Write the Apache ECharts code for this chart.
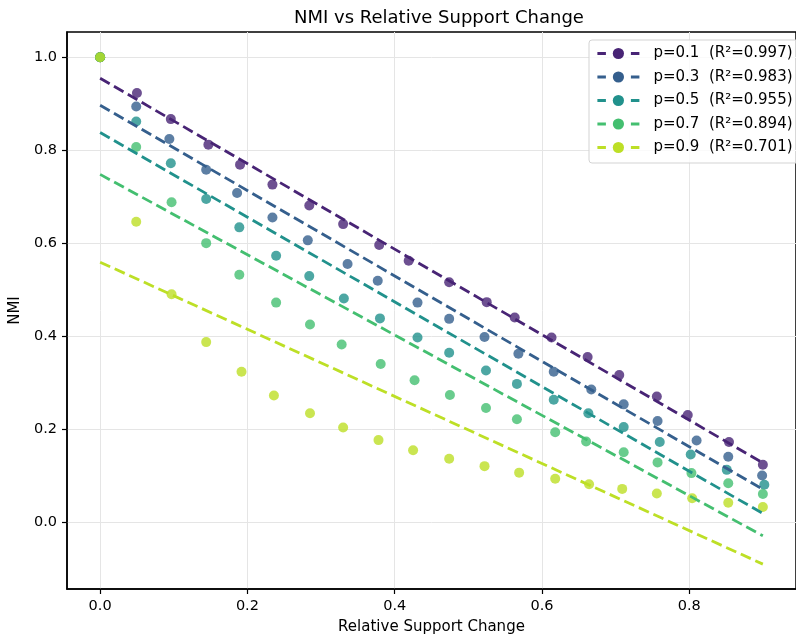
<!DOCTYPE html>
<html>
<head>
<meta charset="utf-8">
<title>NMI vs Relative Support Change</title>
<script src="https://cdn.jsdelivr.net/npm/echarts@6/dist/echarts.min.js"></script>
<style>
  html, body { margin: 0; padding: 0; background: #fff; }
  #myChart { width: 796px; height: 640px; }
</style>
</head>
<body>
<div id="myChart"></div>
<script>
// 每条曲线的 p 值和拟合 R²
let pValues = ['0.1', '0.3', '0.5', '0.7', '0.9'];
let r2Values = ['0.997', '0.983', '0.955', '0.894', '0.701'];
let colors = ['#482475', '#355f8d', '#21918c', '#44bf70', '#bddf26'];

// 散点 (x = relative support change, y = NMI)
let xP1 = [0, 0.050, 0.096, 0.147, 0.190, 0.234, 0.284, 0.330, 0.379, 0.419, 0.474, 0.525, 0.563, 0.613, 0.662, 0.705, 0.756, 0.798, 0.854, 0.900];
let yP1 = [1.0, 0.923, 0.867, 0.812, 0.769, 0.726, 0.681, 0.641, 0.596, 0.562, 0.516, 0.473, 0.440, 0.397, 0.355, 0.316, 0.270, 0.230, 0.172, 0.123];
let xP3 = [0, 0.049, 0.094, 0.144, 0.186, 0.234, 0.282, 0.336, 0.377, 0.431, 0.474, 0.522, 0.568, 0.616, 0.667, 0.711, 0.757, 0.810, 0.853, 0.899];
let yP3 = [1.0, 0.894, 0.824, 0.758, 0.708, 0.655, 0.606, 0.555, 0.519, 0.472, 0.437, 0.398, 0.362, 0.323, 0.285, 0.253, 0.217, 0.175, 0.140, 0.100];
let xP5 = [0, 0.049, 0.096, 0.144, 0.189, 0.239, 0.284, 0.331, 0.380, 0.431, 0.474, 0.524, 0.566, 0.616, 0.663, 0.711, 0.760, 0.802, 0.851, 0.902];
let yP5 = [1.0, 0.862, 0.772, 0.695, 0.634, 0.573, 0.529, 0.481, 0.438, 0.397, 0.364, 0.326, 0.297, 0.263, 0.234, 0.204, 0.172, 0.145, 0.112, 0.080];
let xP7 = [0, 0.049, 0.097, 0.144, 0.189, 0.239, 0.285, 0.328, 0.381, 0.427, 0.475, 0.524, 0.566, 0.618, 0.660, 0.711, 0.757, 0.803, 0.853, 0.900];
let yP7 = [1.0, 0.807, 0.688, 0.600, 0.532, 0.472, 0.425, 0.382, 0.340, 0.305, 0.273, 0.245, 0.221, 0.193, 0.173, 0.150, 0.128, 0.105, 0.083, 0.060];
let xP9 = [0, 0.049, 0.097, 0.144, 0.192, 0.236, 0.285, 0.330, 0.378, 0.425, 0.474, 0.522, 0.569, 0.618, 0.664, 0.709, 0.756, 0.804, 0.853, 0.900];
let yP9 = [1.0, 0.646, 0.490, 0.387, 0.323, 0.272, 0.234, 0.203, 0.176, 0.154, 0.136, 0.120, 0.106, 0.093, 0.081, 0.071, 0.061, 0.051, 0.041, 0.032];

// 拟合直线 两端的值
let fitX = [0, 0.9];
let fitStart = [0.955, 0.897, 0.838, 0.748, 0.559];
let fitEnd = [0.127, 0.070, 0.018, -0.030, -0.091];

// 刻度
let xTicks = [0, 0.2, 0.4, 0.6, 0.8];
let yTicks = [0, 0.2, 0.4, 0.6, 0.8, 1.0];

let xs = [xP1, xP3, xP5, xP7, xP9];
let ys = [yP1, yP3, yP5, yP7, yP9];

let font = 'DejaVu Sans';
let series = [];
let legendNames = [];
for (let i = 0; i < pValues.length; i++) {
  let name = 'p=' + pValues[i] + '  (R\u00b2=' + r2Values[i] + ')';
  legendNames.push(name);
  series.push({
    name: 'pts' + pValues[i],
    type: 'scatter',
    symbol: 'circle',
    symbolSize: 10,
    itemStyle: { color: colors[i], opacity: 0.8 },
    data: xs[i].map(function (x, k) { return [x, ys[i][k]]; }),
    z: 2
  });
  series.push({
    name: name,
    type: 'line',
    symbol: 'circle',
    symbolSize: 10,
    showSymbol: false,
    itemStyle: { color: colors[i] },
    lineStyle: { color: colors[i], width: 2.8, type: [11, 5] },
    data: [[fitX[0], fitStart[i]], [fitX[1], fitEnd[i]]],
    z: 3
  });
}

let option = {
  animation: false,
  title: {
    text: 'NMI vs Relative Support Change',
    left: 289,
    top: 4,
    textStyle: { fontFamily: font, fontSize: 18, fontWeight: 'normal', color: '#000' }
  },
  legend: {
    data: legendNames,
    orient: 'vertical',
    left: 589,
    top: 40,
    padding: [6, 12, 8, 7],
    itemWidth: 42,
    itemHeight: 14,
    itemGap: 8.5,
    borderColor: '#d3d3d3',
    borderWidth: 1,
    borderRadius: 3,
    backgroundColor: 'rgba(255,255,255,0.8)',
    lineStyle: { width: 2.8, type: [8.5, 25, 9], dashOffset: 0 },
    textStyle: { fontFamily: font, fontSize: 15, color: '#000', padding: [0, 0, 0, 9] }
  },
  grid: {
    left: 67,
    right: -10,
    top: 32,
    bottom: 51,
    show: true,
    borderColor: '#000',
    borderWidth: 1.5,
    backgroundColor: 'transparent'
  },
  xAxis: {
    type: 'value',
    min: -0.045,
    max: 0.945,
    name: 'Relative Support Change',
    nameLocation: 'middle',
    nameGap: 31,
    nameTextStyle: { fontFamily: font, fontSize: 15, color: '#000' },
    axisLine: { onZero: false, lineStyle: { color: '#000', width: 1.5 } },
    axisTick: { show: true, length: 5, inside: false, customValues: xTicks, lineStyle: { color: '#000', width: 1.2 } },
    axisLabel: {
      customValues: xTicks,
      margin: 10,
      fontFamily: font, fontSize: 14.5, color: '#000',
      formatter: function (v) { return v.toFixed(1); }
    },
    splitLine: { show: true, lineStyle: { color: '#e5e5e5', width: 1 } }
  },
  yAxis: {
    type: 'value',
    min: -0.1445,
    max: 1.0545,
    name: 'NMI',
    nameLocation: 'middle',
    nameRotate: 90,
    nameGap: 38,
    nameTextStyle: { fontFamily: font, fontSize: 15, color: '#000' },
    axisLine: { show: true, onZero: false, lineStyle: { color: '#000', width: 1.5 } },
    axisTick: { show: true, length: 5, inside: false, customValues: yTicks, lineStyle: { color: '#000', width: 1.2 } },
    axisLabel: {
      customValues: yTicks,
      margin: 10,
      fontFamily: font, fontSize: 14.5, color: '#000',
      formatter: function (v) { return v.toFixed(1); }
    },
    splitLine: { show: true, lineStyle: { color: '#e5e5e5', width: 1 } }
  },
  series: series
};

let myChart = echarts.init(document.getElementById('myChart'));
myChart.setOption(option);
</script>
</body>
</html>
